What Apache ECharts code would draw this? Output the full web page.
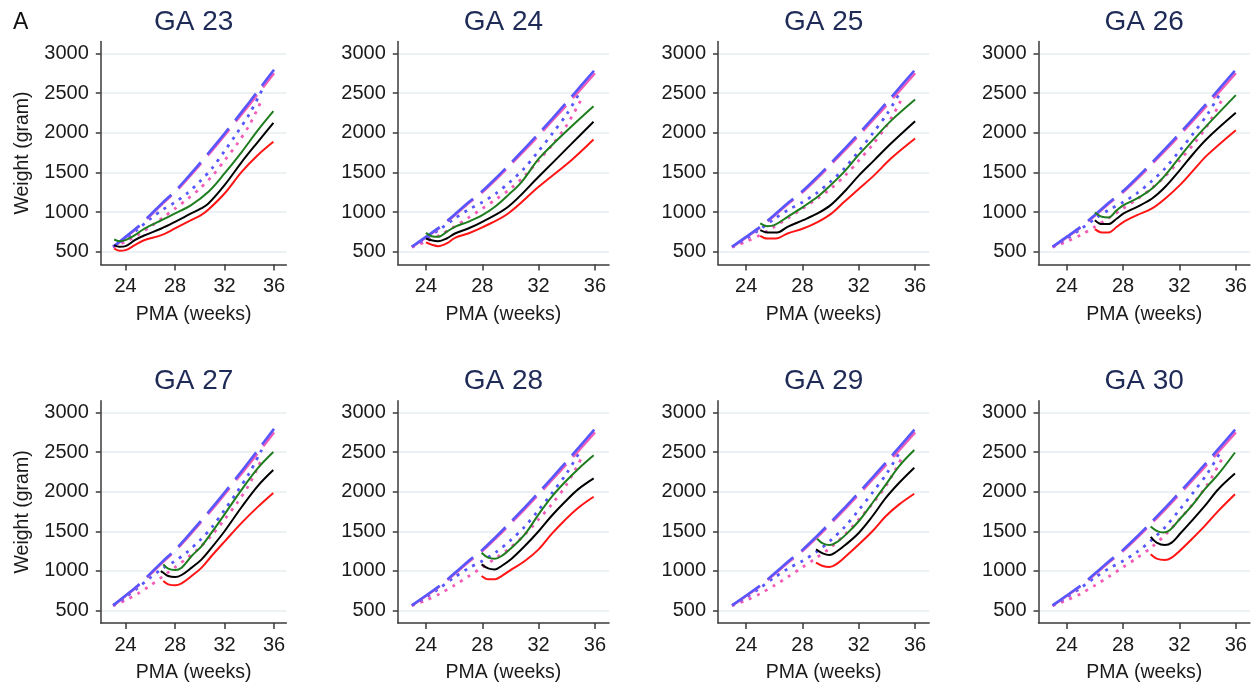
<!DOCTYPE html>
<html>
<head>
<meta charset="utf-8">
<script src="https://cdn.jsdelivr.net/npm/echarts@6/dist/echarts.min.js"></script>
<style>
html,body{margin:0;padding:0;background:#fff;}
#chart{width:1257px;height:684px;}
</style>
</head>
<body>
<div id="chart"></div>
<script>
// ---------- tick labels / categories ----------
const xTicks = [24, 28, 32, 36];
const yTicks = [500, 1000, 1500, 2000, 2500, 3000];
const panelTitles = ['GA 23', 'GA 24', 'GA 25', 'GA 26', 'GA 27', 'GA 28', 'GA 29', 'GA 30'];
const panelLetter = 'A';
const xName = 'PMA (weeks)';
const yName = 'Weight (gram)';

// ---------- reference curves (same in every panel) ----------
const refBlueDash = [[23,563],[24,688],[25,815],[26,965],[27,1120],[28,1265],[29,1435],[30,1615],[31,1800],[32,1990],[33,2185],[34,2385],[35,2590],[36,2795]];
const refPinkDash = [[23,558],[24,682],[25,808],[26,955],[27,1108],[28,1250],[29,1418],[30,1595],[31,1778],[32,1965],[33,2158],[34,2352],[35,2550],[36,2750]];
const refBlueDot  = [[23,563],[24,665],[25,785],[26,915],[27,1030],[28,1125],[29,1240],[30,1385],[31,1555],[32,1770],[33,1995],[34,2235],[35,2530]];
const refPinkDot  = [[23,558],[24,628],[25,712],[26,815],[27,928],[28,1045],[29,1165],[30,1295],[31,1455],[32,1650],[33,1855],[34,2095],[35,2410]];

// ---------- per-panel curves ----------
const ga23Green = [[23.08,655],[23.5,634],[24,647],[24.75,710],[25.5,790],[27,905],[28,983],[29.3,1088],[30.7,1256],[32,1487],[33.4,1760],[34.7,2033],[35.95,2272]];
const ga23Black = [[23.08,584],[23.5,563],[24,571],[24.75,647],[25.5,705],[26.9,794],[28,878],[29.3,983],[30.1,1046],[30.7,1109],[32,1340],[33.4,1634],[34.7,1886],[35.95,2125]];
const ga23Red   = [[23.08,542],[23.5,513],[24,521],[24.75,584],[25.5,645],[26.9,710],[28,794],[29.3,899],[30.1,962],[30.7,1033],[32,1235],[33.4,1510],[34.7,1720],[35.95,1886]];

const ga24Green = [[24,739],[24.4,697],[24.87,689],[25.47,752],[26.06,815],[27,878],[28,962],[28.9,1067],[29.84,1214],[30.8,1382],[32,1670],[33.15,1880],[34.33,2080],[35.9,2335]];
const ga24Black = [[24,668],[24.4,645],[24.87,634],[25.47,668],[26.06,731],[27,794],[28,878],[29.84,1067],[32,1445],[34.33,1860],[35.9,2138]];
const ga24Red   = [[24,618],[24.4,590],[24.87,571],[25.47,605],[26.06,676],[27,731],[28,807],[29.84,983],[32,1319],[34.33,1655],[35.9,1915]];

const ga25Green = [[25,857],[25.5,823],[26,836],[26.94,941],[28.05,1067],[29.07,1193],[30,1340],[30.97,1510],[32.03,1730],[33.1,1930],[34.28,2150],[36,2419]];
const ga25Black = [[25,773],[25.5,744],[26.2,744],[26.94,815],[28.05,899],[29.07,983],[30,1088],[30.97,1256],[32.03,1466],[33.1,1655],[34.28,1865],[36,2146]];
const ga25Red   = [[25,702],[25.5,668],[26.1,668],[26.94,731],[28.05,794],[29.07,875],[30,975],[30.97,1130],[32.03,1298],[33.1,1466],[34.28,1676],[36,1928]];

const ga26Green = [[26,996],[26.5,941],[26.97,933],[27.56,1025],[28.04,1088],[29,1172],[30.06,1298],[31,1466],[32.03,1697],[33,1907],[33.97,2096],[36,2474]];
const ga26Black = [[26,899],[26.5,849],[26.97,849],[27.56,920],[28.04,983],[29,1067],[30.06,1172],[31,1319],[32.03,1529],[33,1739],[33.97,1928],[36,2251]];
const ga26Red   = [[26,786],[26.5,744],[26.97,744],[27.56,815],[28.04,878],[29,962],[30.06,1046],[31,1172],[32.03,1340],[33,1529],[33.97,1718],[36,2033]];

const ga27Green = [[27.05,1082],[27.45,1027],[28,1010],[28.53,1040],[29.34,1187],[30.15,1313],[30.95,1482],[32,1714],[33.4,2030],[34.73,2304],[35.94,2502]];
const ga27Black = [[26.85,997],[27.05,976],[27.45,934],[28,921],[28.53,947],[29.34,1040],[30.15,1145],[30.95,1292],[32,1500],[33.4,1810],[34.73,2080],[35.94,2274]];
const ga27Red   = [[27.05,871],[27.45,829],[28,816],[28.53,841],[29.34,934],[30.15,1040],[30.95,1187],[32,1370],[33.4,1610],[34.73,1815],[35.94,1985]];

const ga28Green = [[27.95,1229],[28.42,1166],[28.9,1153],[29.37,1187],[30.08,1292],[31.02,1461],[32,1714],[32.9,1930],[33.86,2120],[34.8,2285],[35.91,2460]];
const ga28Black = [[27.95,1082],[28.42,1031],[28.9,1018],[29.37,1061],[30.08,1153],[31.02,1313],[32,1500],[32.9,1690],[33.86,1870],[34.8,2030],[35.91,2169]];
const ga28Red   = [[27.95,934],[28.42,892],[28.9,892],[29.37,934],[30.08,1018],[31.02,1124],[32,1271],[32.9,1461],[33.86,1640],[34.8,1795],[35.91,1937]];

const ga29Green = [[29.04,1406],[29.44,1347],[29.91,1326],[30.38,1356],[31.1,1461],[32.01,1630],[32.98,1861],[33.93,2093],[34.87,2325],[35.94,2527]];
const ga29Black = [[28.96,1271],[29.44,1221],[29.91,1200],[30.38,1238],[31.1,1335],[32.01,1482],[32.98,1693],[33.93,1925],[34.87,2114],[35.94,2304]];
const ga29Red   = [[28.96,1103],[29.44,1061],[29.91,1048],[30.38,1082],[31.1,1187],[32.01,1335],[32.98,1503],[33.93,1693],[34.87,1840],[35.94,1975]];

const ga30Green = [[29.96,1559],[30.38,1504],[30.86,1483],[31.33,1517],[32.01,1652],[32.87,1821],[33.8,2032],[34.76,2222],[35.94,2496]];
const ga30Black = [[29.96,1428],[30.38,1357],[30.97,1327],[31.45,1357],[32.01,1462],[32.87,1631],[33.8,1821],[34.76,2032],[35.94,2230]];
const ga30Red   = [[29.96,1209],[30.38,1154],[30.97,1137],[31.45,1167],[32.01,1251],[32.87,1399],[33.8,1568],[34.76,1758],[35.94,1969]];

const panelCurves = [
  [ga23Green, ga23Black, ga23Red],
  [ga24Green, ga24Black, ga24Red],
  [ga25Green, ga25Black, ga25Red],
  [ga26Green, ga26Black, ga26Red],
  [ga27Green, ga27Black, ga27Red],
  [ga28Green, ga28Black, ga28Red],
  [ga29Green, ga29Black, ga29Red],
  [ga30Green, ga30Black, ga30Red]
];

// ---------- layout / style ----------
const FONT = "'Liberation Sans', Arial, Helvetica, sans-serif";
const colLeft = [100.8, 397.8, 718, 1038.5];
const colWidth = [185.6, 211.2, 211.2, 211.4];
const rowTop = [41.5, 400.8];
const rowHeight = [223, 222.6];
const titleTop = [8, 367];
const AXIS_COLOR = '#3a3a3a';
const GRID_COLOR = '#e6ecef';
const TITLE_COLOR = '#1f2b57';
const TEXT_COLOR = '#1a1a1a';
const BLUE = '#5757ff';
const PINK = '#f25cb6';
const GREEN = '#1e7d1e';
const RED = '#ff1414';

const grids = [], xAxes = [], yAxes = [], series = [], titles = [];

titles.push({
  text: panelLetter, left: 13, top: 11, padding: 0,
  textStyle: {fontFamily: FONT, fontSize: 23, fontWeight: 'normal', color: '#111'}
});

for (let p = 0; p < 8; p++) {
  const r = Math.floor(p / 4), c = p % 4;
  grids.push({left: colLeft[c], top: rowTop[r], width: colWidth[c], height: rowHeight[r], containLabel: false});
  xAxes.push({
    type: 'value', gridIndex: p, min: 22, max: 37,
    name: xName, nameLocation: 'middle', nameGap: 40,
    nameTextStyle: {fontFamily: FONT, fontSize: 19.5, color: TEXT_COLOR},
    axisLine: {show: true, onZero: false, lineStyle: {color: AXIS_COLOR, width: 1.5}},
    axisTick: {show: true, length: 6, customValues: xTicks, lineStyle: {color: AXIS_COLOR, width: 1.5}},
    axisLabel: {customValues: xTicks, margin: 12, fontFamily: FONT, fontSize: 20, color: TEXT_COLOR, formatter: v => String(v)},
    splitLine: {show: false}
  });
  yAxes.push({
    type: 'value', gridIndex: p, min: 340, max: 3150,
    name: c === 0 ? yName : '', nameLocation: 'middle', nameGap: 68,
    nameTextStyle: {fontFamily: FONT, fontSize: 19.5, color: TEXT_COLOR},
    axisLine: {show: true, lineStyle: {color: AXIS_COLOR, width: 1.5}},
    axisTick: {show: true, length: 5, customValues: yTicks, lineStyle: {color: AXIS_COLOR, width: 1.5}},
    axisLabel: {customValues: yTicks, margin: 12, fontFamily: FONT, fontSize: 20, color: TEXT_COLOR, formatter: v => String(v)},
    splitLine: {show: true, lineStyle: {color: GRID_COLOR, width: 1.5}}
  });
  titles.push({
    text: panelTitles[p], left: colLeft[c] + colWidth[c] / 2, top: titleTop[r], textAlign: 'center', padding: 0,
    textStyle: {fontFamily: FONT, fontSize: 28, fontWeight: 'normal', color: TITLE_COLOR}
  });
  const base = {type: 'line', xAxisIndex: p, yAxisIndex: p, showSymbol: false, symbol: 'none', silent: true, animation: false};
  series.push(Object.assign({}, base, {data: refPinkDot, smooth: 0.3, lineStyle: {color: PINK, width: 2.8, type: [3, 6], cap: 'butt'}}));
  series.push(Object.assign({}, base, {data: refBlueDot, smooth: 0.3, lineStyle: {color: BLUE, width: 2.8, type: [3, 6], cap: 'butt'}}));
  series.push(Object.assign({}, base, {data: refPinkDash, smooth: 0.3, lineStyle: {color: PINK, width: 2.6, type: [34, 10], cap: 'butt'}}));
  series.push(Object.assign({}, base, {data: refBlueDash, smooth: 0.3, lineStyle: {color: BLUE, width: 2.6, type: [34, 10], cap: 'butt'}}));
  const [g, k, rd] = panelCurves[p];
  series.push(Object.assign({}, base, {data: g, smooth: 0.35, lineStyle: {color: GREEN, width: 2}}));
  series.push(Object.assign({}, base, {data: k, smooth: 0.35, lineStyle: {color: '#000', width: 2}}));
  series.push(Object.assign({}, base, {data: rd, smooth: 0.35, lineStyle: {color: RED, width: 2}}));
}

const chart = echarts.init(document.getElementById('chart'), null, {renderer: 'canvas'});
chart.setOption({
  backgroundColor: '#ffffff',
  animation: false,
  title: titles,
  grid: grids,
  xAxis: xAxes,
  yAxis: yAxes,
  series: series
});
</script>
</body>
</html>
